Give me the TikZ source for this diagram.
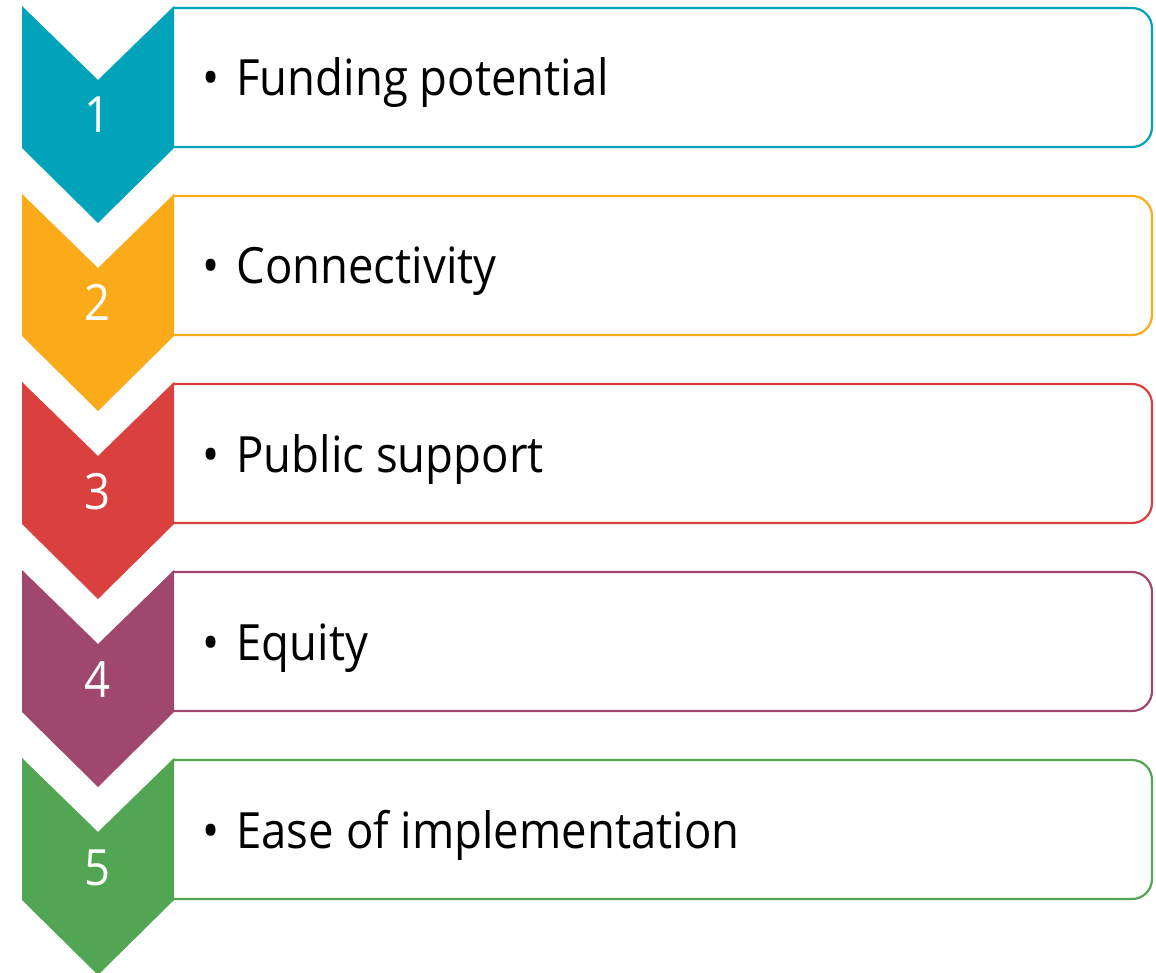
\documentclass[tikz,border=0pt]{standalone}
\usepackage{fontspec}
\setmainfont{Open Sans}[FakeStretch=0.91]
\definecolor{stepteal}{HTML}{00A3B9}
\definecolor{steporange}{HTML}{FBAA1A}
\definecolor{stepred}{HTML}{DA403E}
\definecolor{steppurple}{HTML}{9F476C}
\definecolor{stepgreen}{HTML}{52A653}
\newcommand\itembullet{\makebox[17pt][l]{\textbullet}}
\begin{document}
\begin{tikzpicture}
    [ x=0.5pt, y=-0.5pt
    , every node/.style={font=\fontsize{25}{30}\selectfont, inner sep=0pt}
    , numtext/.style={text=white, anchor=base}
    , itemtext/.style={text=black, anchor=base west}
    , itembox/.style={line width=1.1pt, rounded corners=10pt}
    ]
\useasboundingbox (0,0) rectangle (1156,973);
% row 1
\draw[itembox, draw=stepteal] (174,8) -- (1152,8) -- (1152,147) -- (174,147);
\fill[stepteal] (22,6) -- (98,80) -- (174,6) -- (174,148) -- (98,223) -- (22,148) -- cycle;
\node[numtext] (num1) at (98,133) {1};
\node[itemtext] (item1) at (202,96) {\itembullet Funding potential};
% row 2
\draw[itembox, draw=steporange] (174,196) -- (1152,196) -- (1152,335) -- (174,335);
\fill[steporange] (22,194) -- (98,268) -- (174,194) -- (174,336) -- (98,411) -- (22,336) -- cycle;
\node[numtext] (num2) at (98,321) {2};
\node[itemtext] (item2) at (202,284) {\itembullet Connectivity};
% row 3
\draw[itembox, draw=stepred] (174,384) -- (1152,384) -- (1152,523) -- (174,523);
\fill[stepred] (22,382) -- (98,456) -- (174,382) -- (174,524) -- (98,599) -- (22,524) -- cycle;
\node[numtext] (num3) at (98,509) {3};
\node[itemtext] (item3) at (202,472) {\itembullet Public support};
% row 4
\draw[itembox, draw=steppurple] (174,572) -- (1152,572) -- (1152,711) -- (174,711);
\fill[steppurple] (22,570) -- (98,644) -- (174,570) -- (174,712) -- (98,787) -- (22,712) -- cycle;
\node[numtext] (num4) at (98,697) {4};
\node[itemtext] (item4) at (202,660) {\itembullet Equity};
% row 5
\draw[itembox, draw=stepgreen] (174,760) -- (1152,760) -- (1152,899) -- (174,899);
\fill[stepgreen] (22,758) -- (98,832) -- (174,758) -- (174,900) -- (98,975) -- (22,900) -- cycle;
\node[numtext] (num5) at (98,885) {5};
\node[itemtext] (item5) at (202,848) {\itembullet Ease of implementation};
\end{tikzpicture}
\end{document}
